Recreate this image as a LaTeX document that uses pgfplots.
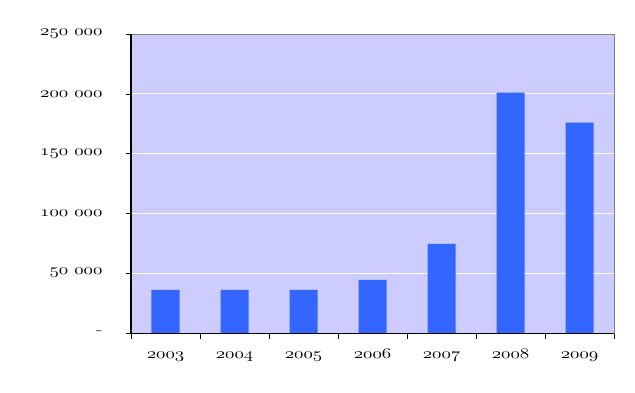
\documentclass[border=0pt]{standalone}
\usepackage{pgfplots}
\pgfplotsset{compat=1.18}
\definecolor{bgc}{HTML}{CCCCFF}
\definecolor{barc}{HTML}{3366FF}
\DeclareFontFamily{OML}{cmmx}{}
\DeclareFontShape{OML}{cmmx}{m}{it}{<-> cmmi10}{}
\newcommand{\os}[1]{\scalebox{1.25}[1]{\fontsize{15}{17}\fontencoding{OML}\fontfamily{cmmx}\fontseries{m}\fontshape{it}\selectfont #1}}
\newcommand{\thou}[2]{\os{#1}\hspace{6pt}\os{#2}}
\begin{document}
\begin{tikzpicture}
\begin{axis}[
  scale only axis,
  width=483pt, height=299pt,
  xmin=-0.5, xmax=6.5,
  ymin=0, ymax=250000,
  scaled y ticks=false,
  axis background/.style={fill=bgc},
  axis line style={draw=gray, line width=1pt},
  ymajorgrids, grid style={white, line width=0.8pt},
  xtick={0,1,2,3,4,5,6},
  xticklabels={\os{2003},\os{2004},\os{2005},\os{2006},\os{2007},\os{2008},\os{2009}},
  minor xtick={-0.5,0.5,1.5,2.5,3.5,4.5,5.5,6.5},
  major x tick style={draw=none},
  minor x tick style={black, line width=0.6pt},
  minor tick length=6pt,
  ytick={0,50000,100000,150000,200000,250000},
  yticklabels={\raisebox{-2pt}{\scalebox{1.4}[1]{\fontsize{15}{17}\selectfont -}}\hspace{11pt},\thou{50}{000},\thou{100}{000},\thou{150}{000},\thou{200}{000},\thou{250}{000}},
  y tick style={black, line width=0.6pt},
  major tick length=5pt,
  tick align=outside,
  xtick pos=bottom, ytick pos=left,
  yticklabel style={xshift=-20pt},
  xticklabel style={yshift=-9pt, text height=8pt, text depth=3pt},
  clip=false,
]
\addplot[ybar, bar width=28pt, fill=barc, draw=none] coordinates {
 (0,36000) (1,36000) (2,36000) (3,44500) (4,74500) (5,201000) (6,176000)};
\draw[black, line width=1pt] (rel axis cs:0,1) -- (rel axis cs:0,0) -- (rel axis cs:1,0);
\path (rel axis cs:0,0) ++(-131pt,-59pt) coordinate (bl);
\path (rel axis cs:1,1) ++(21pt,34pt) coordinate (tr);
\end{axis}
\useasboundingbox (bl) rectangle (tr);
\end{tikzpicture}
\end{document}
